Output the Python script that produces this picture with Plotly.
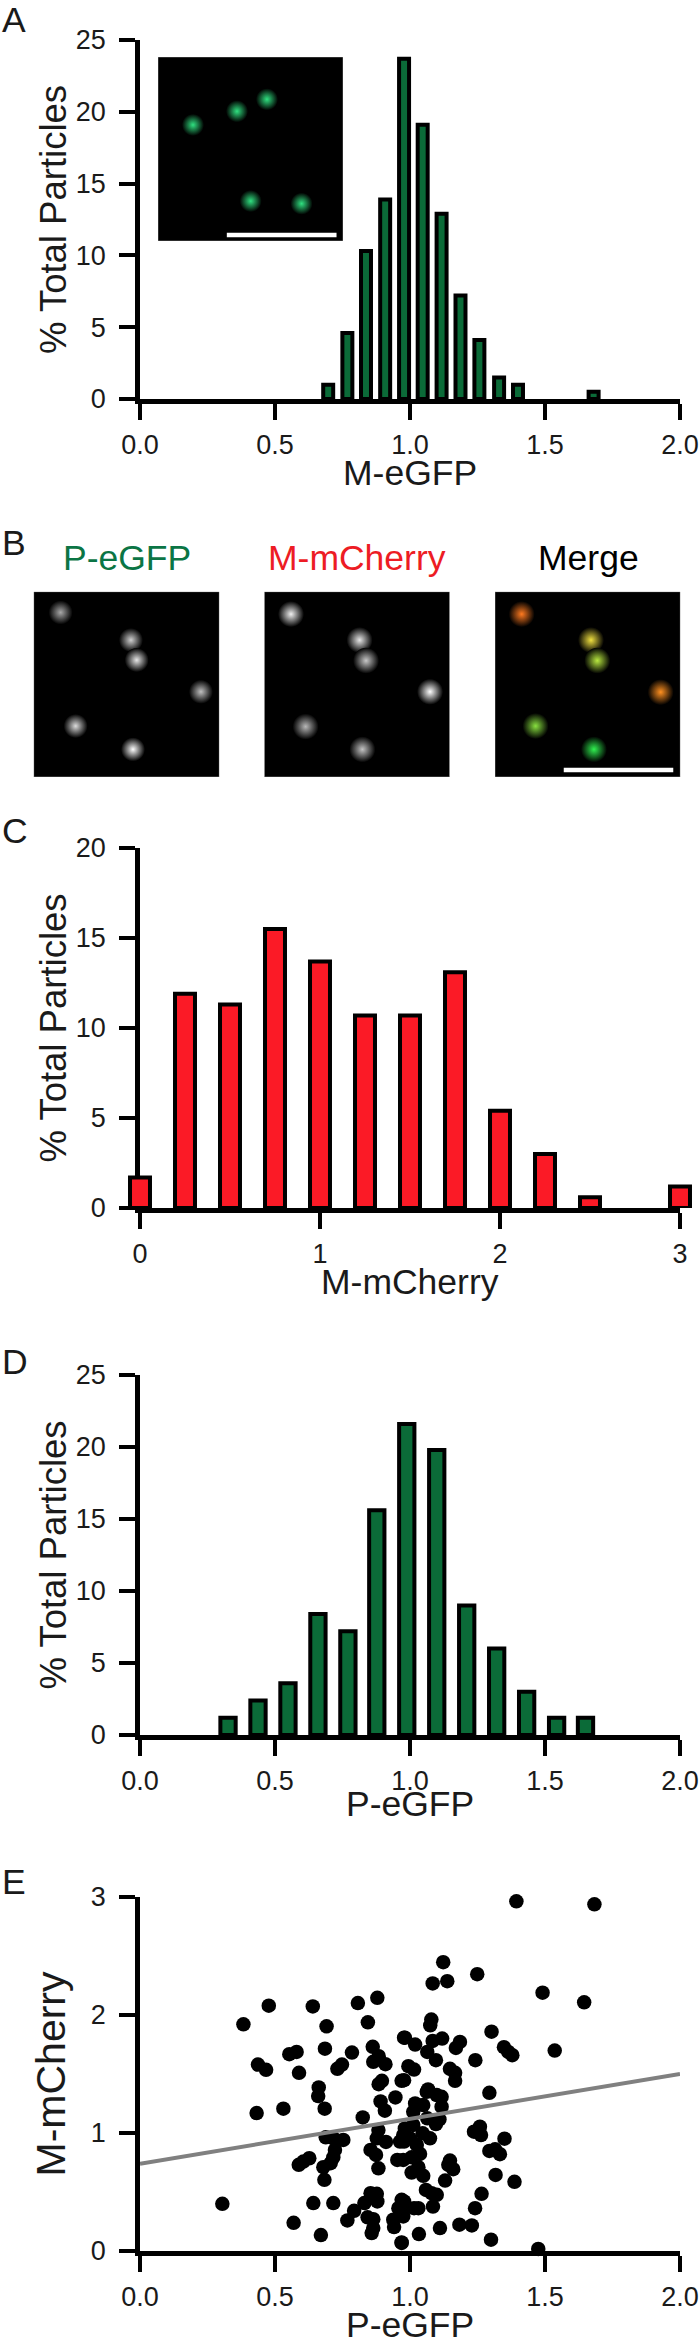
import plotly.graph_objects as go

W, H = 700, 2349
INK = "#1a1a1a"
GREEN = "#0b6b38"
RED = "#fb1a26"
FONT = "Liberation Sans"

# Panel A: M-eGFP histogram
a_bins = [0.697, 0.768, 0.837, 0.908, 0.978, 1.047, 1.117, 1.187, 1.257, 1.33, 1.40, 1.68]
a_vals = [1.0, 4.6, 10.3, 13.9, 23.7, 19.1, 12.9, 7.2, 4.1, 1.5, 1.0, 0.5]
# Panel C: M-mCherry histogram
c_bins = [0, 0.25, 0.5, 0.75, 1.0, 1.25, 1.5, 1.75, 2.0, 2.25, 2.5, 3.0]
c_vals = [1.7, 11.9, 11.3, 15.5, 13.7, 10.7, 10.7, 13.1, 5.4, 3.0, 0.6, 1.2]
# Panel D: P-eGFP histogram
d_bins = [0.326, 0.437, 0.548, 0.659, 0.77, 0.877, 0.988, 1.099, 1.21, 1.321, 1.432, 1.543, 1.65]
d_vals = [1.2, 2.4, 3.6, 8.4, 7.2, 15.6, 21.6, 19.8, 9.0, 6.0, 3.0, 1.2, 1.2]
# Panel E: scatter
e_x = [.879,.807,.640,.477,.383,.844,.691,.978,.685,.785,.862,.580,.553,.884,.864,.909,.437,.467,.748,.731,.589,.896,.884,.969,.662,
       .660,.684,.531,.432,.825,.946,.891,.907,.883,.688,.716,.753,.731,.877,.911,.963,.722,.854,.874,.716,.953,.627,.605,.588,.706,.679,.883,.683,
       .305,.642,.716,.854,.877,.831,.879,.793,.969,.957,.768,.843,.864,.938,.941,.569,.864,.858,.670,.969,
       1.394,1.683,1.123,1.084,1.138,1.249,1.491,1.645,1.079,1.075,1.302,.981,1.019,1.119,1.084,1.185,1.170,1.348,1.379,1.364,1.536,1.064,1.096,1.242,.994,1.015,1.148,1.167,.978,1.167,1.067,1.294,
       1.062,1.099,1.117,1.117,1.019,1.049,1.012,1.064,1.109,1.096,1.012,.981,.975,1.259,1.237,1.263,1.350,1.047,1.074,1.0,.978,1.025,1.294,1.315,1.333,1.037,1.006,.975,1.148,1.142,1.160,1.031,1.006,1.049,1.317,1.387,1.130,1.059,1.265,1.099,1.080,1.085,1.241,.978,1.031,1.015,.969,.975,1.111,1.183,1.229,1.033,1.300,.969,1.475]
e_y = [2.146,2.101,2.073,2.079,1.921,1.938,1.904,1.808,1.715,1.682,1.730,1.687,1.668,1.651,1.603,1.583,1.580,1.535,1.580,1.544,1.510,1.442,1.414,1.442,1.386,
       1.313,1.206,1.206,1.169,1.132,1.301,1.268,1.189,1.025,.963,.955,.941,.935,.955,.924,.927,.856,.856,.814,.794,.772,.786,.758,.730,.744,.710,.701,.603,
       .400,.406,.406,.490,.485,.406,.420,.341,.434,.363,.259,.285,.270,.265,.203,.239,.194,.152,.135,.073,
       2.963,2.938,2.448,2.268,2.287,2.346,2.189,2.107,1.961,1.913,1.859,1.808,1.749,1.800,1.780,1.772,1.721,1.727,1.659,1.687,1.699,1.687,1.617,1.617,1.566,1.538,1.544,1.510,1.448,1.442,1.369,1.341,
       1.349,1.321,1.307,1.223,1.251,1.237,1.180,1.124,1.115,1.076,1.068,1.039,.983,1.054,1.011,.983,.952,.997,.955,.955,.927,.899,.848,.862,.820,.823,.794,.772,.766,.730,.693,.710,.665,.637,.645,.586,.597,.518,.485,.476,.490,.377,.363,.420,.363,.363,.349,.293,.194,.223,.217,.144,.096,.068,.017]
fit_x = [0.0, 2.0]
fit_y = [0.74, 1.50]

# Micrograph spots, in fractions of each image
inset_x = [.189, .427, .589, .501, .776]
inset_y = [.631, .705, .770, .217, .203]
inset_c = ["#30e080"] * 5
peg_x = [.145, .524, .555, .901, .226, .535]
peg_y = [.888, .739, .631, .460, .275, .149]
peg_c = ["#a8a8a8", "#d0d0d0", "#e8e8e8", "#c0c0c0", "#dcdcdc", "#ffffff"]
mch_x = [.144, .514, .549, .894, .223, .529]
mch_y = [.879, .739, .628, .460, .272, .149]
mch_c = ["#f0f0f0", "#e8e8e8", "#c8c8c8", "#ffffff", "#b8b8b8", "#c4c4c4"]
mrg_x = [.144, .518, .552, .894, .219, .534]
mrg_y = [.879, .739, .628, .458, .275, .149]
mrg_c = ["#ff7a20", "#f0e040", "#b8e840", "#ff9020", "#88e040", "#30f050"]
bar_a_x = [.372, .965]
bar_a_y = [.033, .033]
bar_m_x = [.371, .962]
bar_m_y = [.038, .038]

x_ticks_2 = [0, 0.5, 1.0, 1.5, 2.0]
x_labels_2 = ["0.0", "0.5", "1.0", "1.5", "2.0"]

fig = go.Figure()


def px_x(left, right):
    return [left / W, right / W]


def px_y(top, bottom):
    return [1 - bottom / H, 1 - top / H]


def chart_axes(i, left, right, top, bottom, xr, yr, xt, xl, yt, ytitle, ystand, ysize=36.5, ylayer="above traces"):
    common = dict(
        automargin=False, showgrid=False, zeroline=False, showline=True, linecolor="black", linewidth=4.5,
        ticks="outside", ticklen=16, tickwidth=4, tickcolor="black",
        tickfont=dict(family=FONT, size=27, color=INK),
    )
    xa = dict(common)
    ya = dict(common)
    xa.update(domain=px_x(left, right), range=xr, tickvals=xt, ticktext=xl,
              anchor=f"y{i}", ticklabelstandoff=2)
    ya.update(domain=px_y(top, bottom), range=yr, tickvals=yt, ticktext=[str(v) for v in yt],
              anchor=f"x{i}", ticklabelstandoff=8, layer=ylayer,
              title=dict(text=ytitle, font=dict(family=FONT, size=ysize, color=INK), standoff=ystand))
    fig.update_layout({f"xaxis{i}": xa, f"yaxis{i}": ya})


def bars(xref, yref, x, y, color, width):
    fig.add_trace(go.Bar(x=x, y=y, width=width, xaxis=xref, yaxis=yref, cliponaxis=False,
                         marker=dict(color=color, line=dict(color="black", width=4)), showlegend=False))


def image_panel(i, left, right, top, bottom, x, y, colors, size, scale=None):
    ax = dict(visible=False, range=[0, 1], fixedrange=True, automargin=False)
    fig.update_layout({
        f"xaxis{i}": dict(ax, domain=px_x(left, right), anchor=f"y{i}"),
        f"yaxis{i}": dict(ax, domain=px_y(top, bottom), anchor=f"x{i}"),
    })
    fig.add_shape(type="rect", xref=f"x{i}", yref=f"y{i}", x0=0, x1=1, y0=0, y1=1,
                  fillcolor="black", line=dict(color="#9a9a9a", width=0.6), layer="below")
    fig.add_trace(go.Scatter(x=x, y=y, mode="markers", xaxis=f"x{i}", yaxis=f"y{i}", showlegend=False,
                             marker=dict(size=size, color="black", line=dict(width=0),
                                         gradient=dict(type="radial", color=colors))))
    if scale:
        fig.add_trace(go.Scatter(x=scale[0], y=scale[1], mode="lines", xaxis=f"x{i}", yaxis=f"y{i}",
                                 showlegend=False, line=dict(color="white", width=4.5)))


# A
chart_axes(1, 140, 680, 40, 399, [0, 2], [0, 25], x_ticks_2, x_labels_2, [0, 5, 10, 15, 20, 25],
           "% Total Particles", 0)
bars("x1", "y1", a_bins, a_vals, GREEN, 0.037)
# C: the bars at 0 and 3 overhang the axis ends, so they sit on a wider hidden x axis at the same scale
chart_axes(2, 140, 680, 848, 1208, [0, 3], [0, 20], [0, 1, 2, 3], ["0", "1", "2", "3"], [0, 5, 10, 15, 20],
           "% Total Particles", 0, ylayer="below traces")
fig.add_trace(go.Scatter(x=c_bins, y=c_vals, mode="markers", xaxis="x2", yaxis="y2", showlegend=False,
                         hoverinfo="skip", marker=dict(opacity=0, size=1)))
fig.update_layout(xaxis9=dict(visible=False, automargin=False, domain=px_x(104, 700), range=[-0.2, 3.1111],
                              anchor="y2", fixedrange=True))
bars("x9", "y2", c_bins, c_vals, RED, 0.111)
# D
chart_axes(3, 140, 680, 1375, 1735, [0, 2], [0, 25], x_ticks_2, x_labels_2, [0, 5, 10, 15, 20, 25],
           "% Total Particles", 0)
bars("x3", "y3", d_bins, d_vals, GREEN, 0.0567)
# E
chart_axes(4, 140, 680, 1897, 2251, [0, 2], [0, 3], x_ticks_2, x_labels_2, [0, 1, 2, 3],
           "M-mCherry", 14, ysize=41)
fig.add_trace(go.Scatter(x=e_x, y=e_y, mode="markers", xaxis="x4", yaxis="y4", cliponaxis=False, showlegend=False,
                         marker=dict(size=14.5, color="black", line=dict(width=0))))
fig.add_trace(go.Scatter(x=fit_x, y=fit_y, mode="lines", xaxis="x4", yaxis="y4", cliponaxis=False, showlegend=False,
                         line=dict(color="#808080", width=4)))

# Images
image_panel(5, 158, 343, 57, 241, inset_x, inset_y, inset_c, 22, (bar_a_x, bar_a_y))
image_panel(6, 33.7, 219.3, 591.7, 777, peg_x, peg_y, peg_c, 24)
image_panel(7, 264.3, 449.7, 591.7, 777, mch_x, mch_y, mch_c, 26)
image_panel(8, 495, 680.3, 591.7, 777, mrg_x, mrg_y, mrg_c, 26, (bar_m_x, bar_m_y))

notes = [
    ("A", 0, 20, INK, "left"), ("B", 0, 543, INK, "left"), ("C", 0, 831, INK, "left"),
    ("D", 0, 1362, INK, "left"), ("E", 0, 1882, INK, "left"),
    ("P-eGFP", 127, 558, "#0b7545", "center"), ("M-mCherry", 357, 558, "#ed1c24", "center"),
    ("Merge", 588, 558, "black", "center"),
    ("M-eGFP", 410, 473, INK, "center"), ("M-mCherry", 410, 1282, INK, "center"),
    ("P-eGFP", 410, 1804, INK, "center"), ("P-eGFP", 410, 2325, INK, "center"),
]
for text, x, y, color, anchor in notes:
    fig.add_annotation(text=text, x=x / W, y=1 - y / H, xref="paper", yref="paper", showarrow=False,
                       xanchor=anchor, yanchor="middle",
                       font=dict(family=FONT, size=35.5, color=color))

fig.update_layout(width=W, height=H, margin=dict(l=0, r=0, t=0, b=0, pad=0), paper_bgcolor="white",
                  plot_bgcolor="rgba(0,0,0,0)", barmode="overlay", showlegend=False,
                  font=dict(family=FONT, color=INK))
fig.write_html("out.html", config={"displayModeBar": False},
               post_script="document.body.style.margin='0';document.body.style.overflow='hidden';")
